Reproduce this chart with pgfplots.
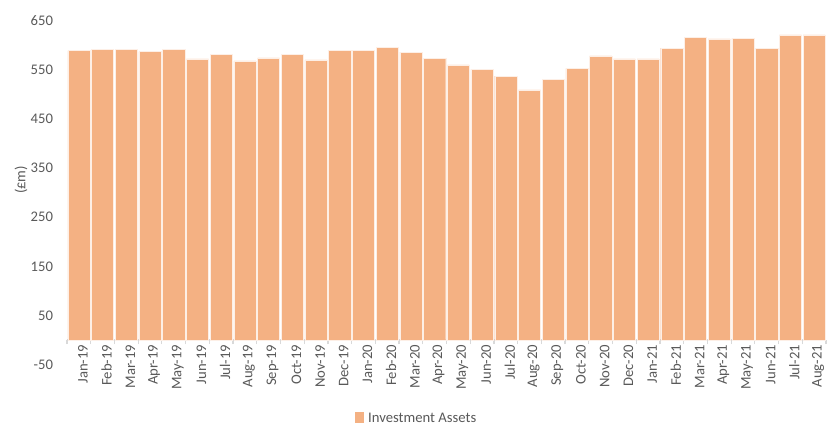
\documentclass[border=0pt]{standalone}
\usepackage{pgfplots}
\pgfplotsset{compat=1.18}
\usepackage{fontspec}
\setmainfont{Carlito}
\definecolor{barfill}{HTML}{F4B183}
\definecolor{txtgray}{HTML}{595959}
\definecolor{axgray}{HTML}{D9D9D9}
\begin{document}
\begin{tikzpicture}
\useasboundingbox (0pt,0pt) rectangle (624pt,318.75pt);
\begin{axis}[
  at={(50.25pt,45.3pt)}, anchor=south west,
  scale only axis,
  width=569.25pt, height=258pt,
  ymin=-50, ymax=650,
  xmin=-0.5, xmax=31.5,
  ytick={-50,50,150,250,350,450,550,650},
  xtick={0,...,31},
  xticklabels={Jan-19,Feb-19,Mar-19,Apr-19,May-19,Jun-19,Jul-19,Aug-19,Sep-19,Oct-19,Nov-19,Dec-19,Jan-20,Feb-20,Mar-20,Apr-20,May-20,Jun-20,Jul-20,Aug-20,Sep-20,Oct-20,Nov-20,Dec-20,Jan-21,Feb-21,Mar-21,Apr-21,May-21,Jun-21,Jul-21,Aug-21},
  minor xtick={-0.5,0.5,...,31.5},
  axis x line*=middle,
  axis y line*=left,
  y axis line style={draw=none},
  x axis line style={draw=axgray, line width=0.9pt, -},
  major tick length=0pt,
  minor tick length=3pt,
  xtick align=outside,
  minor x tick style={draw=axgray, line width=0.9pt},
  ytick style={draw=none},
  every tick label/.append style={font=\fontsize{11}{13}\selectfont, text=txtgray},
  /pgf/number format/assume math mode=true,
  xticklabel style={rotate=90, anchor=east, yshift=-3pt, xshift=0pt},
  yticklabel style={anchor=east, xshift=-7pt},
  ylabel={(£m)},
  ylabel style={font=\fontsize{11}{13}\selectfont, text=txtgray, at={(axis description cs:-0.0607,0.537)}, anchor=center, rotate=0},
  ybar, bar width=0.935,
  legend style={draw=none, at={(axis description cs:0.461,-0.157)}, anchor=center, font=\fontsize{11}{13}\selectfont, text=txtgray, legend cell align=left, inner sep=0pt},
  legend image code/.code={\fill[barfill] (0cm,-0.1cm) rectangle (0.22cm,0.18cm); \path (0.27cm,0);},
]
\addplot[fill=barfill, draw=white!80!barfill, line width=0.3pt] coordinates {
(0,589) (1,592) (2,592) (3,587) (4,591) (5,572) (6,581) (7,568)
(8,574) (9,581) (10,570) (11,589) (12,589) (13,596) (14,586) (15,573)
(16,560) (17,551) (18,537) (19,509) (20,531) (21,553) (22,578) (23,572)
(24,572) (25,594) (26,616) (27,613) (28,614) (29,594) (30,621) (31,621)
};
\addlegendentry{Investment Assets}
\end{axis}
\end{tikzpicture}
\end{document}
